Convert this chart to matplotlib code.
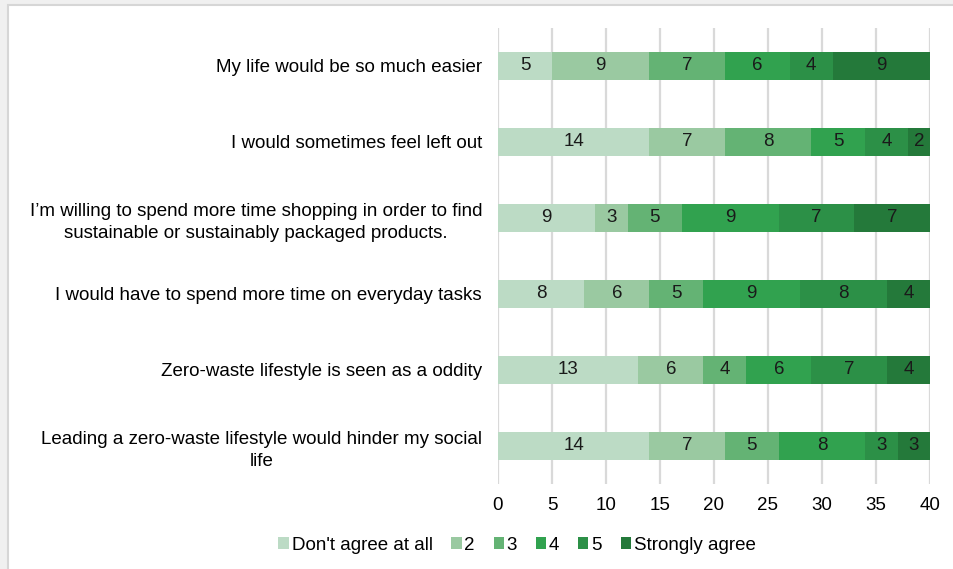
import matplotlib.pyplot as plt
import matplotlib.patches as mpatches
import numpy as np

plt.rcParams['font.family'] = ['Liberation Sans', 'DejaVu Sans']

## data, top row first
statements = [
    "My life would be so much easier",
    "I would sometimes feel left out",
    "I\u2019m willing to spend more time shopping in order to find\nsustainable or sustainably packaged products.",
    "I would have to spend more time on everyday tasks",
    "Zero-waste lifestyle is seen as a oddity",
    "Leading a zero-waste lifestyle would hinder my social\nlife",
]
levels = ["Don't agree at all", "2", "3", "4", "5", "Strongly agree"]
dont_agree = [5, 14, 9, 8, 13, 14]
lvl2 = [9, 7, 3, 6, 6, 7]
lvl3 = [7, 8, 5, 5, 4, 5]
lvl4 = [6, 5, 9, 9, 6, 8]
lvl5 = [4, 4, 7, 8, 7, 3]
strongly = [9, 2, 7, 4, 4, 3]
colors = ['#bcdbc5', '#9ac9a1', '#64b374', '#31a24f', '#2c9047', '#24793a']

series = [dont_agree, lvl2, lvl3, lvl4, lvl5, strongly]

fig = plt.figure(figsize=(9.54, 5.69), dpi=100)
fig.patch.set_facecolor('#f0f0f0')
## white chart panel with light border
panel = mpatches.Rectangle((8 / 954, -0.01), 1.0, 1 - 5 / 569 + 0.01,
                           transform=fig.transFigure, facecolor='white',
                           edgecolor='#d6d6d6', linewidth=1.5, zorder=-5)
fig.patches.append(panel)

ax = fig.add_axes([498 / 954, 1 - 484 / 569, 432 / 954, 456 / 569])
ax.set_facecolor('none')

y = np.arange(len(statements))
left = np.zeros(len(statements))
for vals, col, lab in zip(series, colors, levels):
    vals = np.array(vals, dtype=float)
    ax.barh(y, vals, left=left, height=0.38, color=col, label=lab, zorder=3)
    for yi, l, v in zip(y, left, vals):
        ax.text(l + v / 2, yi, str(int(v)), ha='center', va='center',
                fontsize=13.5, color='#1a1a1a', zorder=4)
    left += vals

ax.set_xlim(0, 40)
ax.set_ylim(len(statements) - 0.5, -0.5)
ax.set_xticks(np.arange(0, 41, 5))
ax.set_yticks(y)
ax.set_yticklabels(statements, fontsize=13.5, multialignment='center',
                   linespacing=1.35)
ax.tick_params(axis='y', length=0, pad=11.5)
ax.tick_params(axis='x', length=0, pad=9, labelsize=13.5)
ax.xaxis.grid(True, color='#d9d9d9', linewidth=1.6, zorder=0)
for s in ax.spines.values():
    s.set_visible(False)

fig.legend(loc='center', bbox_to_anchor=(517 / 954, 1 - 545 / 569), ncol=6,
           frameon=False, fontsize=13.5, handlelength=0.55, handleheight=0.55,
           handletextpad=0.15, columnspacing=1.0)

plt.savefig('out.png', dpi=100, facecolor=fig.get_facecolor())
